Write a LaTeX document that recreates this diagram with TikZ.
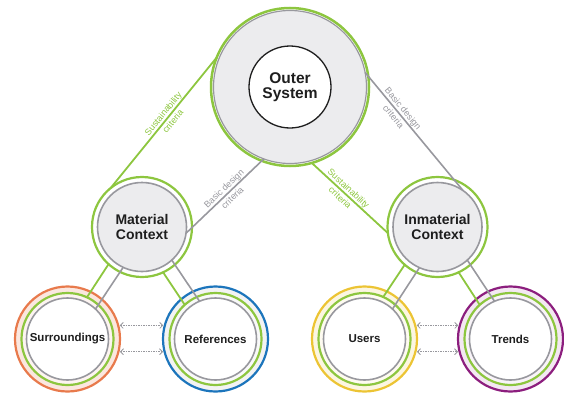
\documentclass[tikz,border=0pt]{standalone}
\usepackage{fontspec}
\setmainfont{Liberation Sans}
\usepackage{tikz}
\usetikzlibrary{arrows.meta}
\definecolor{leaf}{RGB}{141, 198, 63}
\definecolor{slate}{RGB}{152, 152, 158}
\definecolor{ink}{RGB}{30, 30, 30}
\definecolor{fog}{RGB}{236, 236, 238}
\definecolor{rust}{RGB}{232, 122, 76}
\definecolor{sea}{RGB}{28, 117, 188}
\definecolor{gold}{RGB}{236, 196, 52}
\definecolor{plum}{RGB}{140, 30, 126}

\begin{document}
\begin{tikzpicture}[
  x=1pt, y=1pt,
  disc/.style={circle, outer sep=0pt, inner sep=0pt},
  leafring/.style={disc, draw=leaf, line width=2.2pt},
  slatering/.style={disc, draw=slate, line width=1.6pt},
  rim/.style={disc, line width=2.2pt, minimum size=105pt},
  hubtxt/.style={font=\bfseries\fontsize{14}{15.5}\selectfont, text=ink, align=center},
  leaftxt/.style={font=\bfseries\fontsize{11.5}{13}\selectfont, text=ink},
  leaftie/.style={leaf, line width=1.8pt},
  slatetie/.style={slate, line width=1.6pt},
  tag/.style={font=\fontsize{9}{12.5}\selectfont, align=center, sloped, inner sep=0pt},
  linkarr/.style={{Straight Barb[length=3pt]}-{Straight Barb[length=3pt]}, slate,
                  line width=0.8pt, dash pattern=on 1.5pt off 1pt,
                  shorten <=1.5pt, shorten >=1.5pt},
]
  \useasboundingbox (0,0) rectangle (564,392);

  % outer system
  \node[leafring, line width=2.5pt, fill=white, minimum size=158pt] (out) at (290,305) {};
  \node[slatering, line width=1.2pt, fill=fog, minimum size=153pt] (outc) at (out.center) {};
  \node[disc, draw=ink, line width=1.3pt, fill=white, minimum size=82pt,
        hubtxt, font=\bfseries\fontsize{15.5}{15}\selectfont] (outin) at (out.center) {Outer\\System};

  % contexts
  \node[leafring, fill=white, minimum size=100pt] (mat) at (142,165) {};
  \node[slatering, fill=fog, minimum size=89pt, hubtxt] (matc) at (mat.center) {Material\\Context};
  \node[leafring, fill=white, minimum size=100pt] (inm) at (437.5,165) {};
  \node[slatering, fill=fog, minimum size=89pt, hubtxt] (inmc) at (inm.center) {Inmaterial\\Context};

  % leaves
  \node[rim, draw=rust, fill=rust!18] (sur) at (67.5,53) {};
  \node[leafring, fill=rust!8, minimum size=92pt] (surg) at (sur.center) {};
  \node[slatering, fill=white, minimum size=82pt, leaftxt] (surc) at (sur.center) {Surroundings};

  \node[rim, draw=sea, fill=slate!12] (ref) at (215.5,53) {};
  \node[leafring, fill=slate!6, minimum size=92pt] (refg) at (ref.center) {};
  \node[slatering, fill=white, minimum size=82pt, leaftxt] (refc) at (ref.center) {References};

  \node[rim, draw=gold, fill=gold!15] (usr) at (364.5,53) {};
  \node[leafring, fill=gold!7, minimum size=92pt] (usrg) at (usr.center) {};
  \node[slatering, fill=white, minimum size=82pt, leaftxt] (usrc) at (usr.center) {Users};

  \node[rim, draw=plum, fill=plum!10] (trd) at (510.5,53) {};
  \node[leafring, fill=plum!5, minimum size=92pt] (trdg) at (trd.center) {};
  \node[slatering, fill=white, minimum size=82pt, leaftxt] (trdc) at (trd.center) {Trends};

  % ties from the outer system
  \draw[leaftie] (out.158) -- node[tag, pos=0.46, text=leaf] {Sustainability\\criteria} (mat.129);
  \draw[slatetie] (outc.250) -- node[tag, pos=0.46, text=slate] {Basic design\\criteria} (matc.352);
  \draw[slatetie] (outc.11) -- node[tag, pos=0.34, text=slate] {Basic design\\criteria} (inmc.55);
  \draw[leaftie] (out.286) -- node[tag, pos=0.43, text=leaf] {Sustainability\\criteria} (inm.187);

  % rails down to the leaves
  \draw[leaftie] (mat.228) -- (surg.65);
  \draw[slatetie] (matc.245) -- (surc.47);
  \draw[leaftie] (mat.295) -- (refg.132);
  \draw[slatetie] (matc.312) -- (refc.113);
  \draw[leaftie] (inm.229) -- (usrg.66);
  \draw[slatetie] (inmc.246) -- (usrc.47);
  \draw[leaftie] (inm.295) -- (trdg.132);
  \draw[slatetie] (inmc.312) -- (trdc.113);

  % exchange between neighbours
  \draw[linkarr] (sur.15) -- (ref.165);
  \draw[linkarr] (sur.-14) -- (ref.194);
  \draw[linkarr] (usr.15) -- (trd.165);
  \draw[linkarr] (usr.-14) -- (trd.194);
\end{tikzpicture}
\end{document}
